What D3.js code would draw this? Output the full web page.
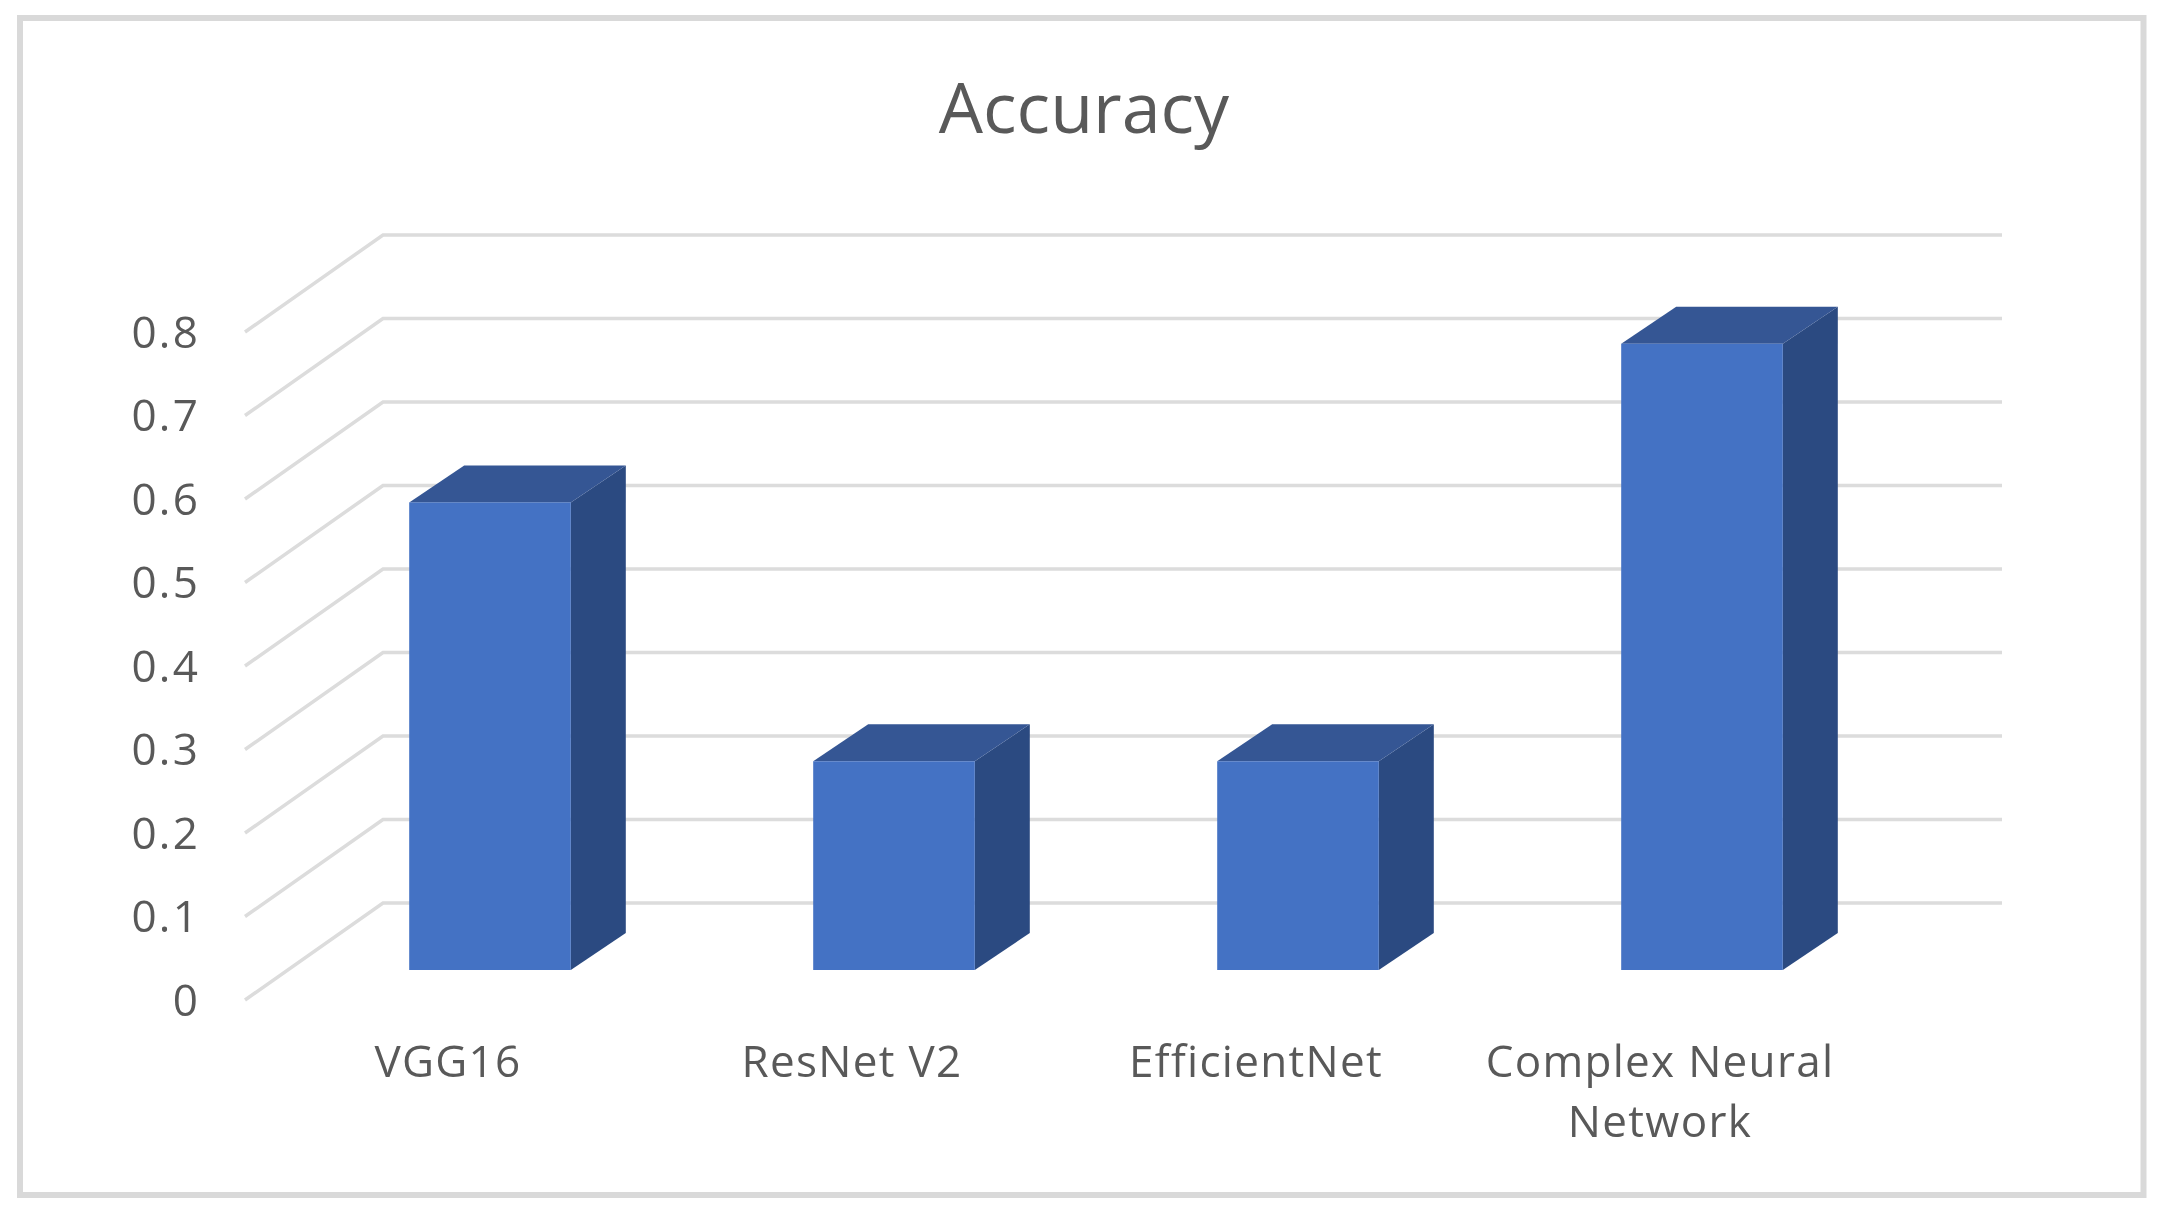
<!DOCTYPE html>
<html><head><meta charset="utf-8">
<script src="https://cdn.jsdelivr.net/npm/d3@7/dist/d3.min.js"></script>
<style>html,body{margin:0;padding:0;background:#fff}svg{display:block;filter:blur(0.7px)}text{font-family:"Open Sans",sans-serif;fill:#595959}</style>
</head><body><svg id="c" width="2169" height="1214"></svg>
<script>
const title = "Accuracy";
const categories = ["VGG16", "ResNet V2", "EfficientNet", "Complex Neural Network"];
const categoryLines = [["VGG16"], ["ResNet V2"], ["EfficientNet"], ["Complex Neural", "Network"]];
const accuracy = [0.56, 0.25, 0.25, 0.75];
const yTicks = [0, 0.1, 0.2, 0.3, 0.4, 0.5, 0.6, 0.7, 0.8];

const svg = d3.select("#c");
svg.append("rect").attr("x", 20).attr("y", 18).attr("width", 2123.5).attr("height", 1177)
  .attr("fill", "#fff").attr("stroke", "#d9d9d9").attr("stroke-width", 6);

const y = d3.scaleLinear().domain([0, 0.8]).range([1000, 332]);
const x = d3.scaleBand().domain(categories).range([288, 1904]).paddingInner(0.6).paddingOuter(0.3);
const wall = {dx: 138, dy: -97, left: 245, right: 2002};
const bar = {floor: 970, dx: 55, dy: -37};

svg.append("text").attr("x", 1084).attr("y", 133).attr("text-anchor", "middle")
  .style("font-size", "70px").text(title);

const gridG = svg.append("g");
const line = d3.line();
yTicks.forEach(t => {
  const p0 = [wall.left, y(t)], p1 = [wall.left + wall.dx, y(t) + wall.dy], p2 = [wall.right, y(t) + wall.dy];
  gridG.append("path").attr("d", line([p0, p1, p2])).attr("fill", "none")
    .attr("stroke", "#dcdcdc").attr("stroke-width", 3.5);
});

const yAxis = d3.axisLeft(y).tickValues(yTicks).tickFormat(d3.format("~g")).tickSize(0).tickPadding(45);
const yG = svg.append("g").attr("transform", `translate(${wall.left},0)`).call(yAxis);
yG.select(".domain").remove();
yG.selectAll("text").attr("dy", 15).style("font-size", "44px").style("letter-spacing", "2.2px").attr("fill", "#595959");

const bars = svg.selectAll("g.bar").data(categories.map((c, i) => ({c, v: accuracy[i]}))).join("g").attr("class", "bar");
const h = d => y(0) - y(d.v);
bars.append("path").attr("fill", "#2b4a81").attr("d", d => {
  const r = x(d.c) + x.bandwidth(), t = bar.floor - h(d);
  return line([[r, bar.floor], [r + bar.dx, bar.floor + bar.dy], [r + bar.dx, t + bar.dy], [r, t]]) + "Z";
});
bars.append("path").attr("fill", "#355694").attr("d", d => {
  const l = x(d.c), r = l + x.bandwidth(), t = bar.floor - h(d);
  return line([[l, t], [l + bar.dx, t + bar.dy], [r + bar.dx, t + bar.dy], [r, t]]) + "Z";
});
bars.append("rect").attr("fill", "#4472c4")
  .attr("x", d => x(d.c)).attr("width", x.bandwidth())
  .attr("y", d => bar.floor - h(d)).attr("height", h);

const xAxis = d3.axisBottom(x).tickSize(0).tickFormat("");
const xG = svg.append("g").attr("transform", "translate(-42,1077)").call(xAxis);
xG.select(".domain").remove();
xG.selectAll(".tick").each(function(d, i) {
  const t = d3.select(this).select("text").attr("y", 0).attr("dy", 0).style("font-size", "44px")
    .style("letter-spacing", "1.3px").attr("text-anchor", "middle");
  t.selectAll("tspan").data(categoryLines[i]).join("tspan").attr("x", 0).attr("dy", (_, j) => j ? 60 : 0).text(s => s);
});
</script></body></html>
